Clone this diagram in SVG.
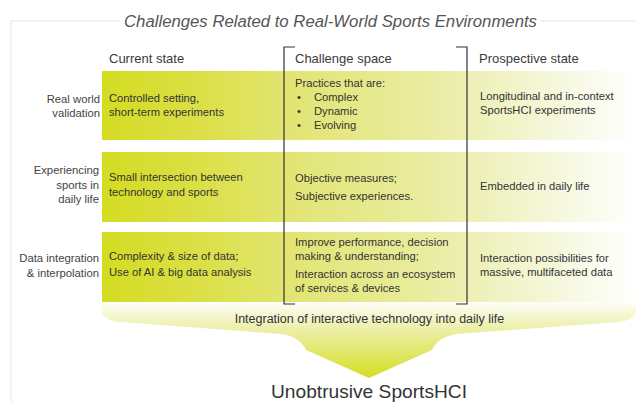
<svg xmlns="http://www.w3.org/2000/svg" width="636" height="402" viewBox="0 0 636 402">
<defs>
<linearGradient id="band" gradientUnits="userSpaceOnUse" x1="102" y1="0" x2="636" y2="0">
<stop offset="0" stop-color="#d4dc22"/>
<stop offset="0.2" stop-color="#dce04a"/>
<stop offset="0.36" stop-color="#e2e574"/>
<stop offset="0.6" stop-color="#e9ec9e"/>
<stop offset="0.72" stop-color="#eff1bd"/>
<stop offset="0.86" stop-color="#f6f8de"/>
<stop offset="1" stop-color="#ffffff"/>
</linearGradient>
<linearGradient id="arrowFill" gradientUnits="userSpaceOnUse" x1="0" y1="302" x2="0" y2="378">
<stop offset="0" stop-color="#fefef8"/>
<stop offset="0.3" stop-color="#eef1b4"/>
<stop offset="1" stop-color="#d5dd22"/>
</linearGradient>
</defs>
<style>
.t{font-family:"Liberation Sans",Arial,sans-serif;fill:#333}
.body{font-size:11.2px}
.lbl{font-size:11.3px;fill:#444;text-anchor:end}
.hdr{font-size:13px;fill:#3a3a3a}
.band{fill:url(#band)}
.frame{fill:none;stroke:#cfcfcf;stroke-width:1;stroke-dasharray:1 1}
.br{fill:none;stroke:#333;stroke-width:1.2}
</style>
<g id="frame">
<path class="frame" d="M11,402 V21 H120 M541,21 H636"/>
</g>
<g id="title">
<text class="t" x="124" y="27" font-size="16.7" font-style="italic" fill="#555" style="fill:#555" textLength="413" lengthAdjust="spacingAndGlyphs">Challenges Related to Real-World Sports Environments</text>
</g>
<g id="arrow">
<path d="M102,302 H636 V310 Q636,320 618,322 L456,334 Q438,337 432,350 L369,378 L306,350 Q300,337 282,334 L120,322 Q102,320 102,310 Z" fill="url(#arrowFill)"/>
<text class="t" x="369.5" y="323" font-size="12.5" text-anchor="middle">Integration of interactive technology into daily life</text>
</g>
<g id="headers">
<text class="t hdr" x="109" y="63">Current state</text>
<text class="t hdr" x="295" y="63">Challenge space</text>
<text class="t hdr" x="479" y="63">Prospective state</text>
</g>
<g id="row-real-world">
<rect class="band" x="102" y="71" width="534" height="69"/>
<text class="t lbl" x="100" y="103">Real world</text>
<text class="t lbl" x="100" y="117">validation</text>
<text class="t body" x="109" y="102">Controlled setting,</text>
<text class="t body" x="109" y="115.5">short-term experiments</text>
<text class="t body" x="295" y="86.5">Practices that are:</text>
<text class="t body" x="297" y="100.5">•</text>
<text class="t body" x="314" y="100.5">Complex</text>
<text class="t body" x="297" y="115">•</text>
<text class="t body" x="314" y="115">Dynamic</text>
<text class="t body" x="297" y="129">•</text>
<text class="t body" x="314" y="129">Evolving</text>
<text class="t body" x="480" y="100">Longitudinal and in-context</text>
<text class="t body" x="480" y="113.5">SportsHCI experiments</text>
</g>
<g id="row-experiencing">
<rect class="band" x="102" y="152" width="534" height="70"/>
<text class="t lbl" x="99" y="174">Experiencing</text>
<text class="t lbl" x="99" y="188.5">sports in</text>
<text class="t lbl" x="99" y="203">daily life</text>
<text class="t body" x="109" y="181">Small intersection between</text>
<text class="t body" x="109" y="196">technology and sports</text>
<text class="t body" x="295" y="181.5">Objective measures;</text>
<text class="t body" x="295" y="200">Subjective experiences.</text>
<text class="t body" x="480" y="189.5">Embedded in daily life</text>
</g>
<g id="row-data">
<rect class="band" x="102" y="232" width="534" height="70"/>
<text class="t lbl" x="99" y="262">Data integration</text>
<text class="t lbl" x="99" y="277">&amp; interpolation</text>
<text class="t body" x="109" y="260">Complexity &amp; size of data;</text>
<text class="t body" x="109" y="275.5">Use of AI &amp; big data analysis</text>
<text class="t body" x="295" y="246">Improve performance, decision</text>
<text class="t body" x="295" y="260">making &amp; understanding;</text>
<text class="t body" x="295" y="278">Interaction across an ecosystem</text>
<text class="t body" x="295" y="292">of services &amp; devices</text>
<text class="t body" x="480" y="262">Interaction possibilities for</text>
<text class="t body" x="480" y="276">massive, multifaceted data</text>
</g>
<g id="connectors">
<path class="br" d="M295,47 H284 V304 H295"/>
<path class="br" d="M456,47 H467 V304 H456"/>
</g>
<g id="outcome">
<text class="t" x="369" y="398" font-size="19" fill="#3a3a3a" text-anchor="middle" textLength="196" lengthAdjust="spacingAndGlyphs">Unobtrusive SportsHCI</text>
</g>
</svg>
